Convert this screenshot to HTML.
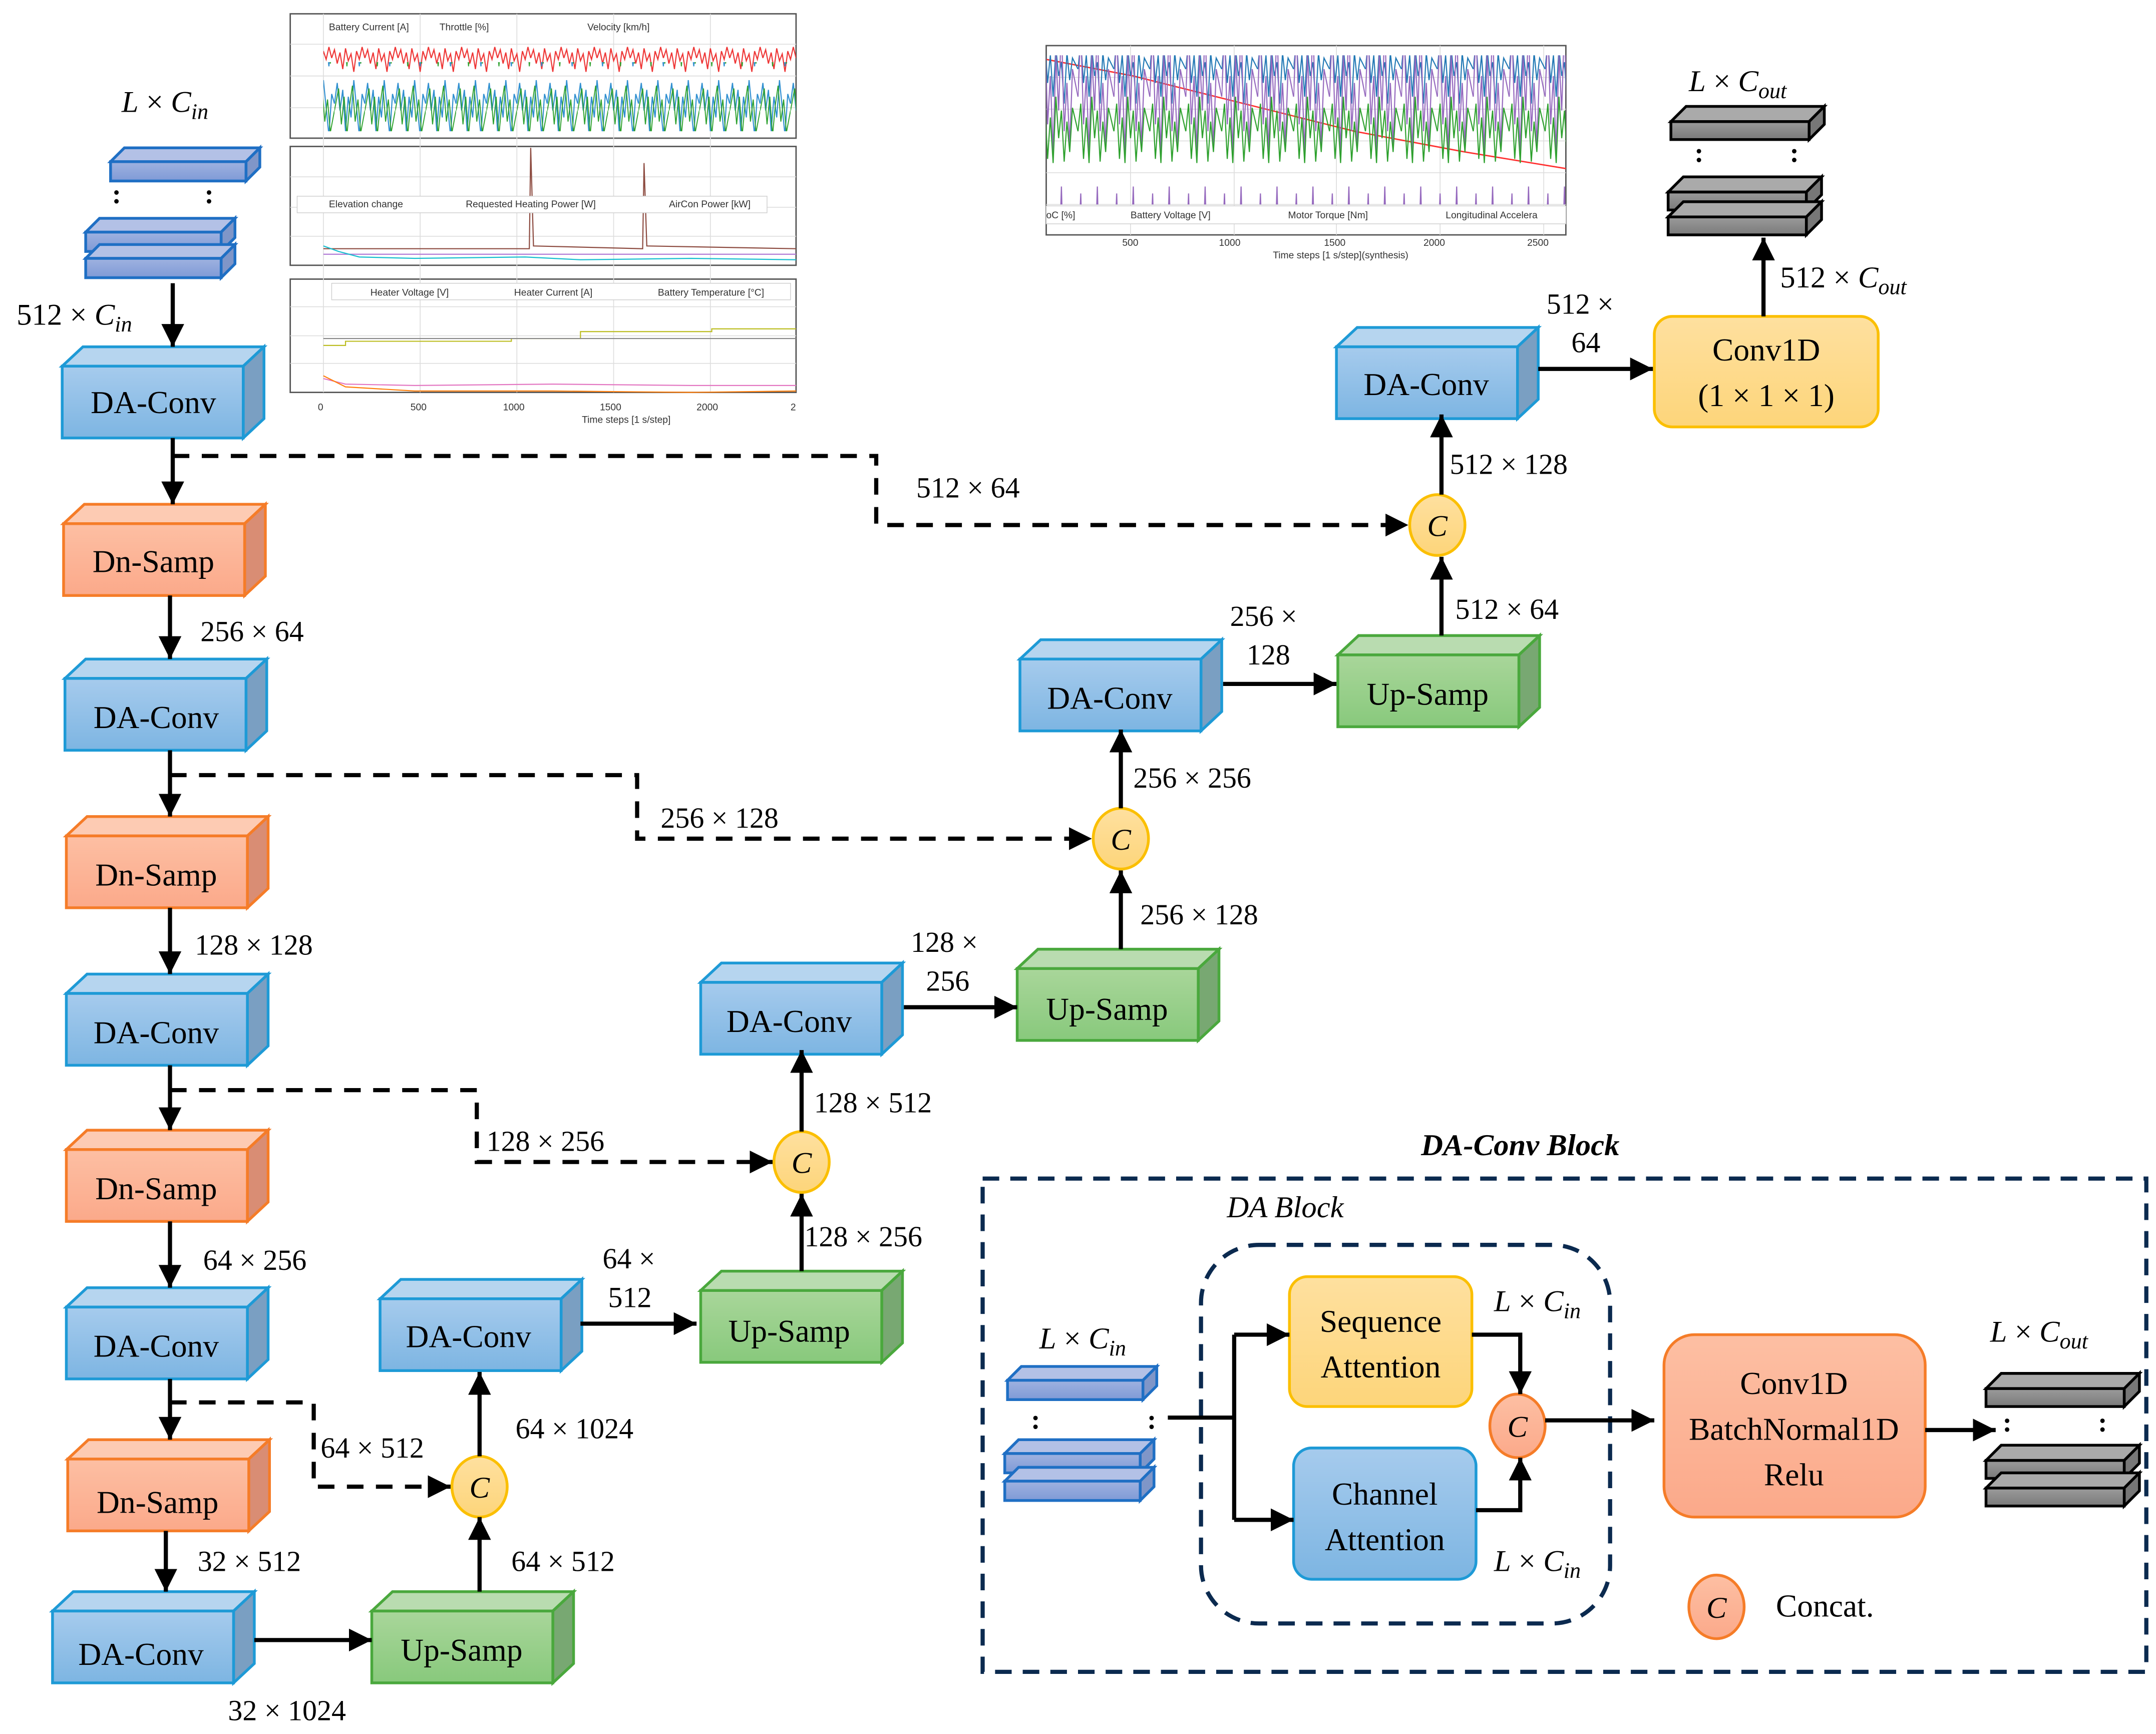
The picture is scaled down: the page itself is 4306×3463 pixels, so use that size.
<!DOCTYPE html>
<html><head><meta charset="utf-8"><style>
html,body{margin:0;padding:0;background:#fff;}
svg{display:block;}
text{font-family:"Liberation Serif",serif;fill:#000;}
.lb{font-size:23px;}
.dm{font-size:21px;}
.sm{font-family:"Liberation Sans",sans-serif;font-size:7px;fill:#333;}
</style></head><body>
<svg width="4306" height="3463" viewBox="0 0 1560 1255" preserveAspectRatio="none" xmlns="http://www.w3.org/2000/svg" xmlns:xlink="http://www.w3.org/1999/xlink">
<defs>
<linearGradient id="gb" x1="0" y1="0" x2="0" y2="1"><stop offset="0" stop-color="#a6cbed"/><stop offset="1" stop-color="#7db5e2"/></linearGradient>
<linearGradient id="go" x1="0" y1="0" x2="0" y2="1"><stop offset="0" stop-color="#fdbfa3"/><stop offset="1" stop-color="#fba98a"/></linearGradient>
<linearGradient id="gg" x1="0" y1="0" x2="0" y2="1"><stop offset="0" stop-color="#a9d69a"/><stop offset="1" stop-color="#88c97c"/></linearGradient>
<linearGradient id="gy" x1="0" y1="0" x2="0" y2="1"><stop offset="0" stop-color="#fee09f"/><stop offset="1" stop-color="#fdd57a"/></linearGradient>
<linearGradient id="gk" x1="0" y1="0" x2="0" y2="1"><stop offset="0" stop-color="#9b9b9b"/><stop offset="1" stop-color="#7a7a7a"/></linearGradient>
<linearGradient id="gs" x1="0" y1="0" x2="0" y2="1"><stop offset="0" stop-color="#9fb2e0"/><stop offset="1" stop-color="#7f9ad6"/></linearGradient>
<marker id="ar" viewBox="0 0 10 10" refX="10" refY="5" markerWidth="5.5" markerHeight="5.5" orient="auto" markerUnits="strokeWidth"><path d="M0,0 L10,5 L0,10 z" fill="#000"/></marker>
<g id="BB" stroke="#1e9ad6" stroke-width="2"><polygon points="0,0 15,-14 146,-14 131,0" fill="#b6d5ef"/><polygon points="131,0 146,-14 146,38 131,52" fill="#7a9fc2"/><rect width="131" height="52" fill="url(#gb)"/></g>
<g id="BO" stroke="#f57c28" stroke-width="2"><polygon points="0,0 15,-14 146,-14 131,0" fill="#fdcbb3"/><polygon points="131,0 146,-14 146,38 131,52" fill="#d98d74"/><rect width="131" height="52" fill="url(#go)"/></g>
<g id="BG" stroke="#4aa83d" stroke-width="2"><polygon points="0,0 15,-14 146,-14 131,0" fill="#b9dcb0"/><polygon points="131,0 146,-14 146,38 131,52" fill="#78a872"/><rect width="131" height="52" fill="url(#gg)"/></g>
<g id="PS" stroke="#1f6fc4" stroke-width="2"><polygon points="0,0 10,-10 108,-10 98,0" fill="#b3c1e6"/><polygon points="98,0 108,-10 108,4 98,14" fill="#7f96c8"/><rect width="98" height="14" fill="url(#gs)"/></g>
<g id="PK" stroke="#000" stroke-width="2"><polygon points="0,0 11,-11 111,-11 100,0" fill="#aaa"/><polygon points="100,0 111,-11 111,2 100,13" fill="#777"/><rect width="100" height="13" fill="url(#gk)"/></g>
<pattern id="nR" width="24" height="30" patternUnits="userSpaceOnUse"><polyline points="0,12 2,6 4,16 6,8 8,20 10,5 12,14 14,9 16,22 18,7 20,13 22,4 24,12" fill="none" stroke="#ee3333" stroke-width="0.8"/></pattern>
<pattern id="nB" width="22" height="50" patternUnits="userSpaceOnUse"><polyline points="0,25 2,10 4,30 6,15 8,45 10,20 12,35 14,8 16,28 18,48 20,18 22,25" fill="none" stroke="#2f8fd0" stroke-width="0.8"/><polyline points="0,30 3,14 5,40 7,20 9,48 11,26 13,12 15,38 17,22 19,46 22,30" fill="none" stroke="#2ca02c" stroke-width="0.7"/></pattern>
<pattern id="nC" width="26" height="120" patternUnits="userSpaceOnUse"><polyline points="0,50 2,30 4,60 6,40 8,70 10,35 12,55 14,45 16,75 18,38 20,58 22,42 26,50" fill="none" stroke="#1f77b4" stroke-width="0.8"/><polyline points="0,70 2,20 4,90 6,55 8,110 10,40 12,80 14,15 16,95 18,60 20,105 22,50 26,70" fill="none" stroke="#9467bd" stroke-width="0.8"/><polyline points="0,95 2,75 4,115 6,85 8,118 10,70 12,100 14,80 16,117 18,88 20,110 22,78 26,95" fill="none" stroke="#2ca02c" stroke-width="0.8"/></pattern>
</defs>

<g stroke="#ddd" stroke-width="0.6">
<rect x="210" y="10" width="366" height="90" fill="#fff" stroke="#555" stroke-width="1"/>
<rect x="210" y="106" width="366" height="86" fill="#fff" stroke="#555" stroke-width="1"/>
<rect x="210" y="202" width="366" height="82" fill="#fff" stroke="#555" stroke-width="1"/>
<rect x="757" y="33" width="376" height="137" fill="#fff" stroke="#555" stroke-width="1"/>
<path d="M234,10V284M304,10V284M374,10V284M444,10V284M514,10V284M210,32H576M210,55H576M210,78H576M210,128H576M210,150H576M210,171H576M210,222H576M210,243H576M210,263H576M818,33V170M893,33V170M967,33V170M1042,33V170M1117,33V170M757,56H1133M757,79H1133M757,102H1133M757,125H1133M757,148H1133"/>
</g>
<rect x="234" y="26" width="342" height="30" fill="url(#nR)"/>
<rect x="234" y="45" width="342" height="50" fill="url(#nB)"/>
<polyline points="234,180 383,180 384,107 386,178 465,180 466,118 468,178 576,180" fill="none" stroke="#8c4a3f" stroke-width="0.8"/>
<line x1="234" y1="184" x2="576" y2="184" stroke="#b07ad6" stroke-width="0.8"/>
<polyline points="234,178 245,182 260,186 300,187 380,186 420,188 500,187 576,188" fill="none" stroke="#17becf" stroke-width="0.8"/>
<rect x="215" y="142" width="340" height="12" fill="#fff" stroke="#ccc" stroke-width="0.5"/>
<polyline points="234,250 250,250 250,247 370,247 370,245 420,245 420,240 515,240 515,238 576,238" fill="none" stroke="#bcbd22" stroke-width="0.8"/>
<line x1="234" y1="245" x2="576" y2="245" stroke="#888" stroke-width="0.8"/>
<polyline points="234,274 250,278 300,279 400,278 500,279 576,279" fill="none" stroke="#e377c2" stroke-width="0.8"/>
<polyline points="234,272 250,280 300,283 400,283 500,284 576,283" fill="none" stroke="#ff7f0e" stroke-width="0.8"/>
<rect x="240" y="205" width="332" height="12" fill="#fff" stroke="#ccc" stroke-width="0.5"/>
<polyline points="757,43 820,55 900,75 980,95 1060,110 1133,122" fill="none" stroke="#ff3030" stroke-width="1"/>
<rect x="757" y="40" width="376" height="108" fill="url(#nC)"/>
<rect x="757" y="149" width="376" height="13" fill="#fff" stroke="#ccc" stroke-width="0.5"/>
<text class="sm" x="238" y="22">Battery Current [A]</text>
<text class="sm" x="318" y="22">Throttle [%]</text>
<text class="sm" x="425" y="22">Velocity [km/h]</text>
<text class="sm" x="238" y="150">Elevation change</text>
<text class="sm" x="337" y="150">Requested Heating Power [W]</text>
<text class="sm" x="484" y="150">AirCon Power [kW]</text>
<text class="sm" x="268" y="214">Heater Voltage [V]</text>
<text class="sm" x="372" y="214">Heater Current [A]</text>
<text class="sm" x="476" y="214">Battery Temperature [°C]</text>
<text class="sm" x="230" y="297">0</text><text class="sm" x="297" y="297">500</text><text class="sm" x="364" y="297">1000</text><text class="sm" x="434" y="297">1500</text><text class="sm" x="504" y="297">2000</text><text class="sm" x="572" y="297">2</text>
<text class="sm" x="421" y="306">Time steps [1 s/step]</text>
<text class="sm" x="757" y="158">oC [%]</text>
<text class="sm" x="818" y="158">Battery Voltage [V]</text>
<text class="sm" x="932" y="158">Motor Torque [Nm]</text>
<text class="sm" x="1046" y="158">Longitudinal Accelera</text>
<text class="sm" x="812" y="178">500</text><text class="sm" x="882" y="178">1000</text><text class="sm" x="958" y="178">1500</text><text class="sm" x="1030" y="178">2000</text><text class="sm" x="1105" y="178">2500</text>
<text class="sm" x="921" y="187">Time steps [1 s/step](synthesis)</text>

<use xlink:href="#BB" href="#BB" x="45" y="265"/>
<use xlink:href="#BO" href="#BO" x="46" y="379"/>
<use xlink:href="#BB" href="#BB" x="47" y="491"/>
<use xlink:href="#BO" href="#BO" x="48" y="605"/>
<use xlink:href="#BB" href="#BB" x="48" y="719"/>
<use xlink:href="#BO" href="#BO" x="48" y="832"/>
<use xlink:href="#BB" href="#BB" x="48" y="946"/>
<use xlink:href="#BO" href="#BO" x="49" y="1056"/>
<use xlink:href="#BB" href="#BB" x="38" y="1166"/>
<use xlink:href="#BG" href="#BG" x="269" y="1166"/>
<use xlink:href="#BB" href="#BB" x="275" y="940"/>
<use xlink:href="#BG" href="#BG" x="507" y="934"/>
<use xlink:href="#BB" href="#BB" x="507" y="711"/>
<use xlink:href="#BG" href="#BG" x="736" y="701"/>
<use xlink:href="#BB" href="#BB" x="738" y="477"/>
<use xlink:href="#BG" href="#BG" x="968" y="474"/>
<use xlink:href="#BB" href="#BB" x="967" y="251"/>
<use xlink:href="#PS" href="#PS" x="80" y="117"/>
<use xlink:href="#PS" href="#PS" x="62" y="168"/>
<use xlink:href="#PS" href="#PS" x="62" y="187"/>
<use xlink:href="#PK" href="#PK" x="1209" y="88"/>
<use xlink:href="#PK" href="#PK" x="1207" y="139"/>
<use xlink:href="#PK" href="#PK" x="1207" y="157"/>
<use xlink:href="#PS" href="#PS" x="729" y="999"/>
<use xlink:href="#PS" href="#PS" x="727" y="1052"/>
<use xlink:href="#PS" href="#PS" x="727" y="1072"/>
<use xlink:href="#PK" href="#PK" x="1437" y="1005"/>
<use xlink:href="#PK" href="#PK" x="1437" y="1057"/>
<use xlink:href="#PK" href="#PK" x="1437" y="1077"/>

<rect x="1197" y="229" width="162" height="80" rx="13" fill="url(#gy)" stroke="#fbbf00" stroke-width="2"/>
<rect x="933" y="924" width="132" height="94" rx="13" fill="url(#gy)" stroke="#fbbf00" stroke-width="2"/>
<rect x="936" y="1048" width="132" height="95" rx="13" fill="url(#gb)" stroke="#1e9ad6" stroke-width="2"/>
<rect x="1204" y="966" width="189" height="132" rx="22" fill="url(#go)" stroke="#f57c28" stroke-width="2"/>
<g fill="url(#gy)" stroke="#fbbf00" stroke-width="2">
<ellipse cx="347" cy="1076" rx="20" ry="22"/><ellipse cx="580" cy="841" rx="20" ry="22"/><ellipse cx="811" cy="607" rx="20" ry="22"/><ellipse cx="1040" cy="380" rx="20" ry="22"/>
</g>
<g fill="url(#go)" stroke="#f57c28" stroke-width="2"><ellipse cx="1098" cy="1032" rx="20" ry="23"/><ellipse cx="1242" cy="1163" rx="20" ry="23"/></g>
<rect x="711" y="853" width="842" height="357" fill="none" stroke="#0b2a4f" stroke-width="3" stroke-dasharray="12 8"/>
<rect x="869" y="901" width="296" height="274" rx="42" fill="none" stroke="#0b2a4f" stroke-width="3" stroke-dasharray="12 8"/>

<g stroke="#000" stroke-width="3" fill="none" marker-end="url(#ar)">
<path d="M125,205V251"/><path d="M125,317V365"/><path d="M123,431V477"/><path d="M123,543V591"/>
<path d="M123,657V705"/><path d="M123,771V818"/><path d="M123,884V932"/><path d="M123,998V1042"/>
<path d="M120,1108V1152"/><path d="M184,1187H269"/><path d="M347,1152V1098"/><path d="M347,1054V993"/>
<path d="M420,958H504"/><path d="M580,920V864"/><path d="M580,819V760"/><path d="M654,729H736"/>
<path d="M811,687V630"/><path d="M811,585V528"/><path d="M885,495H967"/><path d="M1043,460V403"/>
<path d="M1043,358V300"/><path d="M1113,267H1196"/><path d="M1276,229V172"/>
<g stroke-dasharray="12 9">
<path d="M125,330H634V380H1019"/><path d="M123,561H461V607H790"/><path d="M123,789H345V841H559"/><path d="M123,1015H227V1076H326"/>
</g>
<path d="M893,966H933"/><path d="M893,1100H936"/>
<path d="M1065,966H1100V1009"/><path d="M1068,1093H1100V1055"/>
<path d="M1118,1028H1197"/><path d="M1393,1035H1444"/>
</g>
<path d="M845,1026H893M893,966V1100" stroke="#000" stroke-width="3" fill="none"/>

<g class="lb" text-anchor="middle">
<text x="111" y="299">DA-Conv</text>
<text x="111" y="414">Dn-Samp</text>
<text x="113" y="527">DA-Conv</text>
<text x="113" y="641">Dn-Samp</text>
<text x="113" y="755">DA-Conv</text>
<text x="113" y="868">Dn-Samp</text>
<text x="113" y="982">DA-Conv</text>
<text x="114" y="1095">Dn-Samp</text>
<text x="102" y="1205">DA-Conv</text>
<text x="334" y="1202">Up-Samp</text>
<text x="339" y="975">DA-Conv</text>
<text x="571" y="971">Up-Samp</text>
<text x="571" y="747">DA-Conv</text>
<text x="801" y="738">Up-Samp</text>
<text x="803" y="513">DA-Conv</text>
<text x="1033" y="510">Up-Samp</text>
<text x="1032" y="286">DA-Conv</text>
<text x="1278" y="261">Conv1D</text>
<text x="1278" y="294">(1 × 1 × 1)</text>
<text x="999" y="964">Sequence</text>
<text x="999" y="997">Attention</text>
<text x="1002" y="1089">Channel</text>
<text x="1002" y="1122">Attention</text>
<text x="1298" y="1009">Conv1D</text>
<text x="1298" y="1042">BatchNormal1D</text>
<text x="1298" y="1075">Relu</text>
</g>
<g font-size="22" text-anchor="middle" font-style="italic">
<text x="347" y="1084">C</text><text x="580" y="849">C</text><text x="811" y="615">C</text><text x="1040" y="388">C</text>
<text x="1098" y="1040">C</text><text x="1242" y="1171">C</text>
</g>
<text class="lb" x="1285" y="1170">Concat.</text>
<text x="1100" y="836" font-size="22" font-weight="bold" font-style="italic" text-anchor="middle">DA-Conv Block</text>
<text x="930" y="881" font-size="22" font-style="italic" text-anchor="middle">DA Block</text>

<g class="dm">
<text x="145" y="464">256 × 64</text>
<text x="141" y="691">128 × 128</text>
<text x="147" y="919">64 × 256</text>
<text x="143" y="1137">32 × 512</text>
<text x="165" y="1245">32 × 1024</text>
<text x="370" y="1137">64 × 512</text>
<text x="373" y="1041">64 × 1024</text>
<text x="232" y="1055">64 × 512</text>
<text x="436" y="918">64 ×</text><text x="440" y="946">512</text>
<text x="582" y="902">128 × 256</text>
<text x="352" y="833">128 × 256</text>
<text x="589" y="805">128 × 512</text>
<text x="659" y="689">128 ×</text><text x="670" y="717">256</text>
<text x="825" y="669">256 × 128</text>
<text x="478" y="599">256 × 128</text>
<text x="820" y="570">256 × 256</text>
<text x="890" y="453">256 ×</text><text x="902" y="481">128</text>
<text x="1053" y="448">512 × 64</text>
<text x="663" y="360">512 × 64</text>
<text x="1049" y="343">512 × 128</text>
<text x="1119" y="227">512 ×</text><text x="1137" y="255">64</text>
</g>
<g font-size="22">
<text x="88" y="81"><tspan font-style="italic">L</tspan> × <tspan font-style="italic">C</tspan><tspan font-style="italic" font-size="16" dy="5">in</tspan></text>
<text x="12" y="235">512 × <tspan font-style="italic">C</tspan><tspan font-style="italic" font-size="16" dy="5">in</tspan></text>
<text x="1222" y="66"><tspan font-style="italic">L</tspan> × <tspan font-style="italic">C</tspan><tspan font-style="italic" font-size="16" dy="5">out</tspan></text>
<text x="1288" y="208">512 × <tspan font-style="italic">C</tspan><tspan font-style="italic" font-size="16" dy="5">out</tspan></text>
<text x="752" y="976"><tspan font-style="italic">L</tspan> × <tspan font-style="italic">C</tspan><tspan font-style="italic" font-size="16" dy="5">in</tspan></text>
<text x="1081" y="949"><tspan font-style="italic">L</tspan> × <tspan font-style="italic">C</tspan><tspan font-style="italic" font-size="16" dy="5">in</tspan></text>
<text x="1081" y="1137"><tspan font-style="italic">L</tspan> × <tspan font-style="italic">C</tspan><tspan font-style="italic" font-size="16" dy="5">in</tspan></text>
<text x="1440" y="971"><tspan font-style="italic">L</tspan> × <tspan font-style="italic">C</tspan><tspan font-style="italic" font-size="16" dy="5">out</tspan></text>
</g>
<g font-size="20" font-weight="bold">
<text x="81" y="147">:</text><text x="148" y="147">:</text>
<text x="1226" y="117">:</text><text x="1295" y="117">:</text>
<text x="746" y="1034">:</text><text x="830" y="1034">:</text>
<text x="1449" y="1036">:</text><text x="1518" y="1036">:</text>
</g>
</svg>
</body></html>
